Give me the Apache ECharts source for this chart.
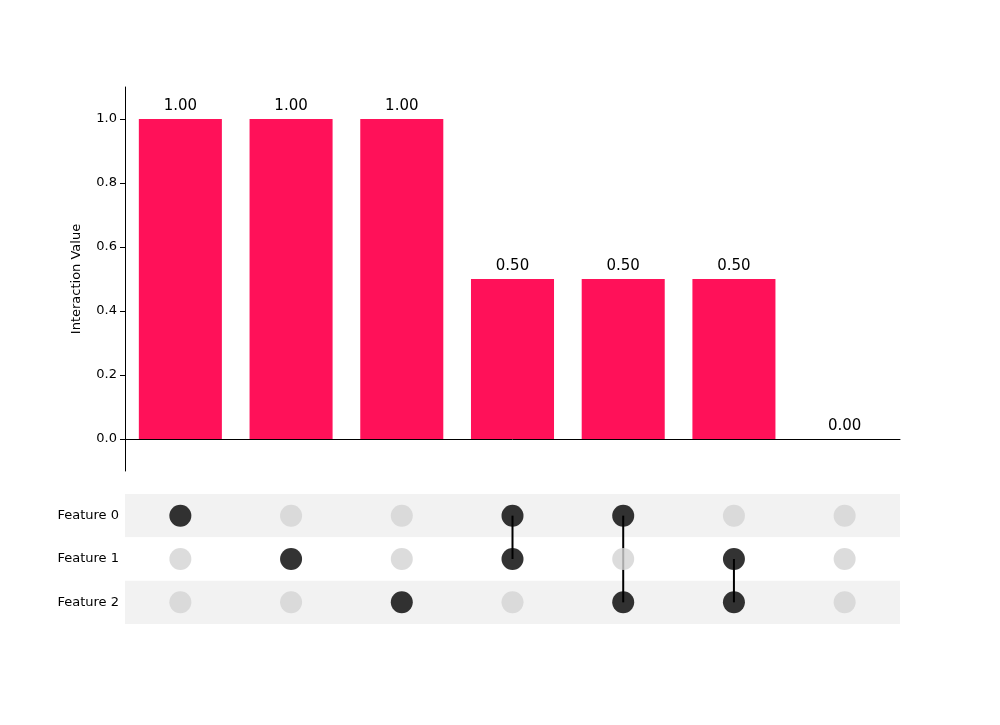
<!DOCTYPE html>
<html><head><meta charset="utf-8">
<script src="https://cdn.jsdelivr.net/npm/echarts@6/dist/echarts.min.js"></script>
<style>html,body{margin:0;background:#fff}#c{width:1000px;height:725px}</style>
</head><body><div id="c"></div>
<script>
const combos = ['c0','c1','c2','c3','c4','c5','c6'];
const values = [1.0, 1.0, 1.0, 0.5, 0.5, 0.5, 0.0];
const features = ['Feature 0','Feature 1','Feature 2'];
const members = [[0],[1],[2],[0,1],[0,2],[1,2],[]];
const yTicks = [0,0.2,0.4,0.6,0.8,1.0];

const dots = [];
combos.forEach((c,i)=>features.forEach((f,j)=>{
  dots.push({value:[i,j], itemStyle:{color: members[i].includes(j)?'#000':'#d3d3d3'}});
}));
const lineSeries = [];
members.forEach((m,i)=>{
  if(m.length>1){
    lineSeries.push({type:'line',xAxisIndex:1,yAxisIndex:1,symbol:'none',z:1,
      lineStyle:{color:'#000',width:2},silent:true,
      data:[[i,Math.min(...m)],[i,Math.max(...m)]]});
  }
});
const chart = echarts.init(document.getElementById('c'));
const font = 'DejaVu Sans';
chart.setOption({
  animation:false,
  textStyle:{fontFamily:font},
  grid:[{left:125,width:775,top:87,height:384},{left:125,width:775,top:494,height:130}],
  xAxis:[
    {type:'category',gridIndex:0,data:combos,axisLine:{onZero:true,lineStyle:{color:'#000'}},axisTick:{show:false},axisLabel:{show:false}},
    {type:'category',gridIndex:1,data:combos,axisLine:{show:false},axisTick:{show:false},axisLabel:{show:false}}
  ],
  yAxis:[
    {type:'value',gridIndex:0,min:-0.1,max:1.1,name:'Interaction Value',nameLocation:'middle',nameGap:42,
     nameTextStyle:{color:'#000',fontSize:13},
     axisLine:{show:true,lineStyle:{color:'#000'}},splitLine:{show:false},
     axisTick:{show:true,customValues:yTicks,lineStyle:{color:'#000'}},
     axisLabel:{customValues:yTicks,color:'#000',fontSize:13,formatter:v=>v.toFixed(1)}},
    {type:'category',gridIndex:1,data:features,inverse:true,
     axisLine:{show:false},axisTick:{show:false},
     axisLabel:{color:'#000',fontSize:13,margin:6},
     splitArea:{show:true,interval:0,areaStyle:{color:['#f2f2f2','#ffffff']}},splitLine:{show:false}}
  ],
  series:[
    {type:'bar',data:values,barWidth:'75%',itemStyle:{color:'#ff1159'},
     label:{show:true,position:'top',color:'#000',fontSize:15,formatter:p=>p.value.toFixed(2)}},
    ...lineSeries,
    {type:'scatter',xAxisIndex:1,yAxisIndex:1,symbolSize:22,z:3,data:dots}
  ]
});
</script></body></html>
